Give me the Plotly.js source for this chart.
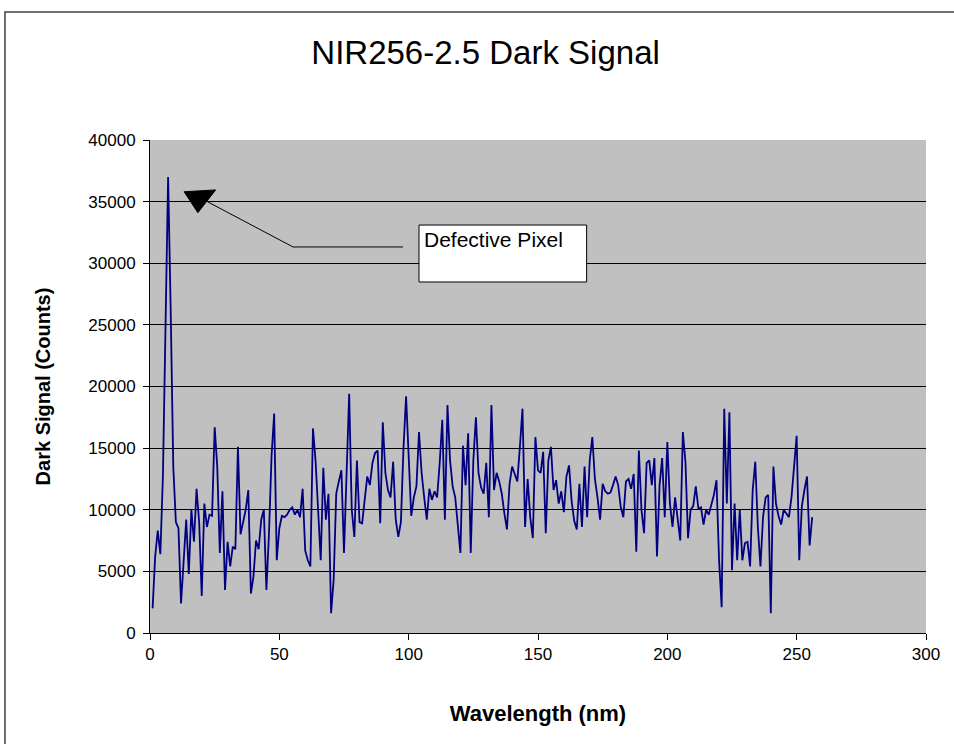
<!DOCTYPE html>
<html>
<head>
<meta charset="utf-8">
<script src="https://cdn.plot.ly/plotly-3.0.1.min.js"></script>
<style>html,body{margin:0;padding:0;background:#fff;}#chart{width:954px;height:744px;}</style>
</head>
<body>
<div id="chart"></div>
<script>
// Pixel index 1..256
const pixelIndex = Array.from({length: 256}, (_, k) => k + 1);

// Dark signal counts (one value per pixel)
const darkSignal = [
  2000, 6200, 8300, 6400, 12800, 26300, 37000, 26200, 13500, 9000,
  8500, 2400, 5500, 9200, 4800, 10000, 7400, 11700, 9000, 3000,
  10500, 8600, 9600, 9500, 16700, 13500, 6500, 11500, 3500, 7400,
  5400, 7000, 6800, 15100, 8000, 8900, 10000, 11600, 3200, 4600,
  7500, 6800, 9200, 10000, 3500, 8100, 14400, 17800, 5900, 8500,
  9500, 9400, 9600, 10000, 10200, 9600, 10000, 9400, 11700, 6700,
  5900, 5400, 16600, 14000, 9300, 5900, 13400, 9200, 11300, 1600,
  4300, 11300, 12300, 13200, 6500, 12500, 19400, 10000, 7800, 14000,
  9000, 8900, 11000, 12700, 12000, 13800, 14600, 14800, 8900, 17100,
  13000, 11600, 11000, 13900, 9200, 7800, 9000, 15000, 19200, 14000,
  9500, 11000, 11900, 16300, 13000, 11000, 9200, 11700, 10800, 11500,
  11000, 13800, 17300, 9200, 18500, 14000, 11900, 11000, 8600, 6500,
  15200, 12000, 16200, 6500, 14000, 17500, 13000, 11800, 11300, 13800,
  9400, 18500, 11600, 13000, 12300, 11300, 9700, 8400, 12100, 13500,
  12900, 12300, 15100, 18200, 8600, 12500, 9400, 7700, 15900, 13200,
  13000, 14700, 8100, 14000, 15100, 11600, 12400, 10500, 11500, 9800,
  12700, 13600, 10700, 9100, 8400, 12100, 8600, 13500, 9400, 14000,
  15900, 12500, 11000, 9200, 12100, 11500, 11300, 11400, 12000, 12700,
  12000, 10200, 9400, 12300, 12500, 11700, 12900, 6600, 14800, 10000,
  8100, 13800, 14000, 12000, 14200, 6200, 12000, 14200, 9400, 15500,
  10500, 8600, 11000, 9000, 7500, 16300, 13900, 7700, 10000, 10300,
  11900, 10100, 10200, 8800, 10000, 9600, 10300, 11200, 12400, 5900,
  2100, 18200, 10500, 17900, 5100, 10500, 5900, 10000, 5900, 7300,
  7400, 5400, 11600, 13900, 8600, 5400, 9400, 11000, 11200, 1600,
  13500, 10500, 9500, 8800, 10000, 9700, 9400, 11000, 13800, 16000,
  5900, 10300, 11600, 12700, 7100, 9400
];

const chartTitle = "NIR256-2.5 Dark Signal";
const xTitle = "Wavelength (nm)";
const yTitle = "Dark Signal (Counts)";
const noteText = "Defective Pixel";

const FONT = "Arial, 'Liberation Sans', sans-serif";

const trace = {
  x: pixelIndex,
  y: darkSignal,
  type: "scatter",
  mode: "lines",
  line: {color: "#000080", width: 1.8},
  hoverinfo: "x+y"
};

const layout = {
  width: 954,
  height: 744,
  paper_bgcolor: "#ffffff",
  plot_bgcolor: "#c0c0c0",
  margin: {l: 150, r: 28, t: 140, b: 111},
  showlegend: false,
  title: {
    text: chartTitle,
    font: {family: FONT, size: 33, color: "#000"},
    x: 0.509, xref: "container", xanchor: "center",
    y: 0.929, yref: "container", yanchor: "middle"
  },
  xaxis: {
    range: [0, 300],
    dtick: 50,
    tick0: 0,
    showgrid: false,
    zeroline: false,
    showline: true,
    linecolor: "#000",
    linewidth: 1,
    ticks: "outside",
    ticklen: 6,
    tickcolor: "#000",
    tickfont: {family: FONT, size: 17, color: "#000"},
    title: {text: xTitle, font: {family: FONT, size: 22, color: "#000", weight: "bold"}, standoff: 42},
    automargin: false
  },
  yaxis: {
    range: [0, 40000],
    dtick: 5000,
    tick0: 0,
    tickformat: "d",
    showgrid: true,
    gridcolor: "#000",
    gridwidth: 1,
    zeroline: false,
    showline: true,
    linecolor: "#000",
    linewidth: 1,
    ticks: "outside",
    ticklen: 6,
    ticklabelstandoff: 4,
    tickcolor: "#000",
    tickfont: {family: FONT, size: 17, color: "#000"},
    title: {text: yTitle, font: {family: FONT, size: 20, color: "#000", weight: "bold"}, standoff: 32},
    automargin: false
  },
  shapes: [
    // outer chart frame
    {type: "rect", xref: "paper", yref: "paper", x0: -0.1869, x1: 1.06, y0: -0.25, y1: 1.2596,
     line: {color: "#404040", width: 1.5}, fillcolor: "rgba(0,0,0,0)", layer: "below"},
    // callout connector
    {type: "path", xref: "x", yref: "y", path: "M 97.8 31320 L 55.3 31320 L 22.4 34970",
     line: {color: "#000", width: 1}},
    // arrow head
    {type: "path", xref: "x", yref: "y", path: "M 13.2 35800 L 25.4 35950 L 18.5 34100 Z",
     fillcolor: "#000", line: {color: "#000", width: 1}},
    // text box
    {type: "rect", xref: "x", yref: "y", x0: 104, x1: 168.8, y0: 28480, y1: 33100,
     fillcolor: "#ffffff", line: {color: "#000", width: 1}}
  ],
  annotations: [
    {text: noteText, xref: "x", yref: "y", x: 105.0, y: 33000, xanchor: "left", yanchor: "top",
     showarrow: false, font: {family: FONT, size: 21, color: "#000"}}
  ]
};

Plotly.newPlot("chart", [trace], layout, {displayModeBar: false, staticPlot: true});
</script>
</body>
</html>
